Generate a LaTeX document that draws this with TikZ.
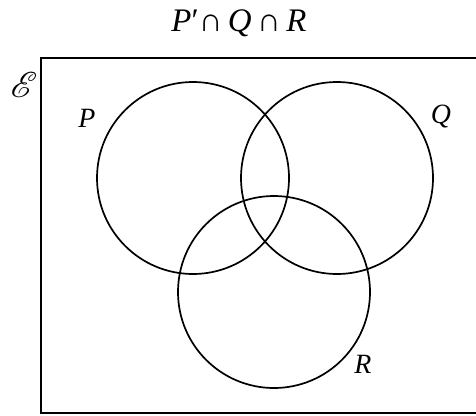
\documentclass[tikz,border=0pt]{standalone}
\usepackage{fontspec}
\setmainfont{Liberation Serif}
\usepackage{mathrsfs}
\usetikzlibrary{positioning}

\begin{document}
\begin{tikzpicture}[
  x=1bp, y=1bp,
  every node/.style={font=\fontsize{28}{32}\selectfont, inner sep=0pt},
  set/.style={draw, circle, line width=1.7bp, minimum size=192bp},
  lbl/.style={font=\fontsize{28}{32}\selectfont\itshape},
]
\useasboundingbox (0,0) rectangle (476,415);
\clip (0,0) rectangle (476,415);

% title
\node[font=\fontsize{33}{36}\selectfont] (title) at (239,392)
  {\textit{P}′∩\,\textit{Q}\,∩\,\textit{R}};

% universal set
\draw[line width=1.9bp] (41,2) rectangle (490,357);
\node[scale=1.45] (univ) at (24,330) {$\mathscr{E}$};

% the three sets
\node[set] (P) at (193,237) {};
\node[set] (Q) at (337,237) {};
\node[set] (R) at (274,123) {};

% set labels
\node[lbl] (Plbl) at (87,297) {P};
\node[lbl] (Qlbl) at (441,298) {Q};
\node[lbl] (Rlbl) at (363,51) {R};
\end{tikzpicture}
\end{document}
